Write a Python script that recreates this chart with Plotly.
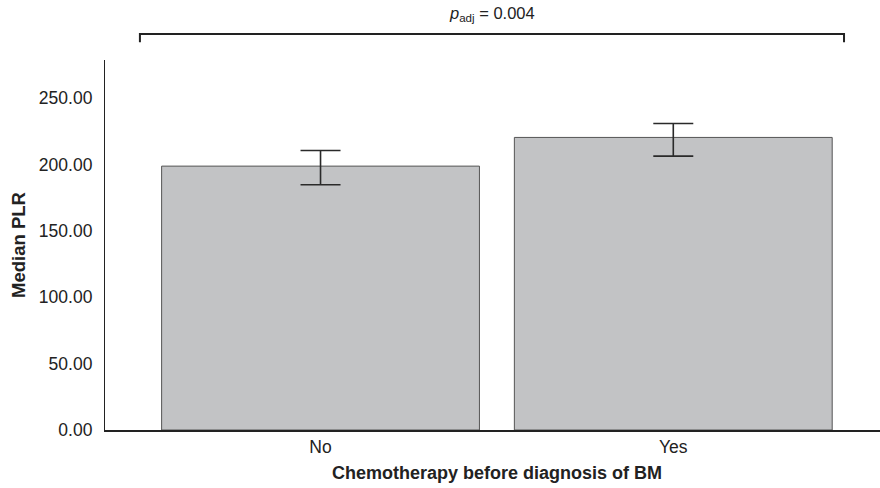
import plotly.graph_objects as go

categories = ["No", "Yes"]
medians = [198.7, 220.3]
err_plus = [11.8, 10.5]
err_minus = [14.0, 14.1]
y_ticks = [0, 50, 100, 150, 200, 250]
p_text = "<i>p</i><sub>adj</sub> = 0.004"
x_title = "Chemotherapy before diagnosis of BM"
y_title = "Median PLR"

FONT = "Liberation Sans, Arial, sans-serif"

fig = go.Figure()
fig.add_trace(go.Bar(
    x=[0, 1], y=medians, width=0.901,
    marker=dict(color="#c2c3c5", line=dict(color="#555555", width=1)),
    error_y=dict(type="data", symmetric=False, array=err_plus, arrayminus=err_minus,
                 color="#2a2a2a", thickness=1.6, width=20),
    showlegend=False,
))

# significance bracket
fig.add_shape(type="path", xref="x", yref="paper",
              path="M -0.512,1.0478 L -0.512,1.0703 L 1.484,1.0703 L 1.484,1.0478",
              line=dict(color="#222222", width=2))
fig.add_annotation(x=0.486, xref="x", y=1.124, yref="paper", text=p_text,
                   showarrow=False, xanchor="center", yanchor="middle",
                   font=dict(family=FONT, size=16.5, color="#222222"))
fig.add_annotation(x=0.5, xref="x", y=-0.117, yref="paper", text="<b>" + x_title + "</b>",
                   showarrow=False, xanchor="center", yanchor="middle",
                   font=dict(family=FONT, size=18, color="#222222"))

fig.update_layout(
    width=880, height=488,
    margin=dict(l=105, r=0, t=60, b=58),
    paper_bgcolor="white", plot_bgcolor="white",
    font=dict(family=FONT, size=17, color="#222222"),
    xaxis=dict(range=[-0.611, 1.586], tickvals=[0, 1], ticktext=categories,
               showline=True, linecolor="#222222", linewidth=1.5, showgrid=False,
               zeroline=False, ticks="", ticklen=0, tickfont=dict(size=17.5)),
    yaxis=dict(range=[0, 278.6], tickvals=y_ticks, tickformat=".2f",
               showline=True, linecolor="#222222", linewidth=1.2, showgrid=False,
               zeroline=False, ticks="", ticklabelstandoff=8, tickfont=dict(size=17.5),
               title=dict(text="<b>" + y_title + "</b>", font=dict(size=18.5), standoff=8)),
)

fig.write_html("out.html")
